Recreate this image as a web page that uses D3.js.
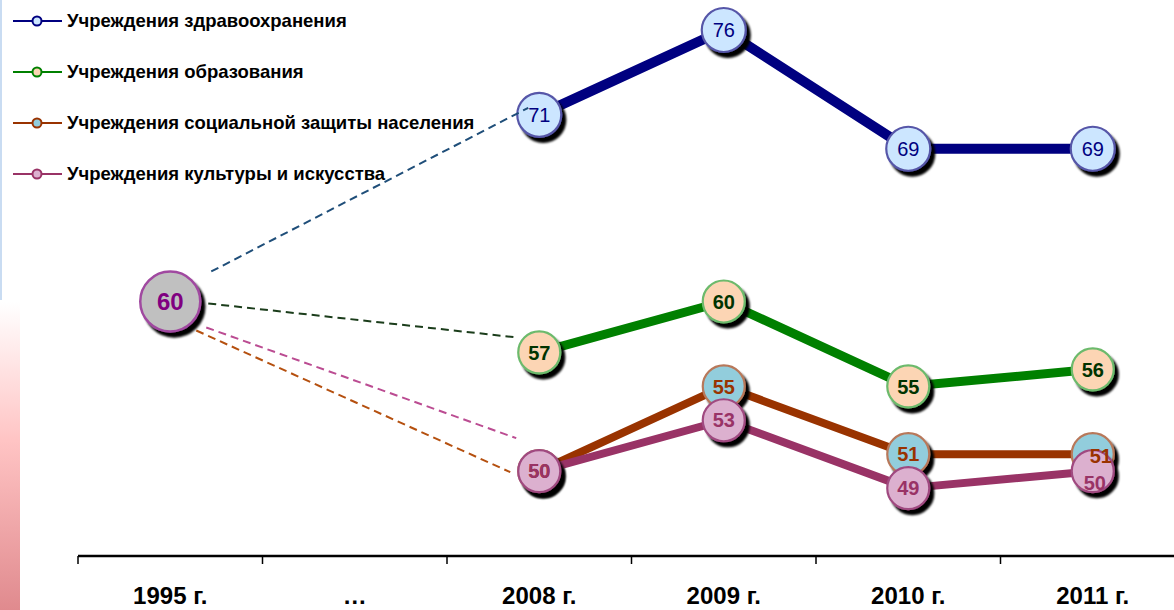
<!DOCTYPE html>
<html><head><meta charset="utf-8">
<script src="https://cdn.jsdelivr.net/npm/d3@7/dist/d3.min.js"></script>
<style>html,body{margin:0;padding:0;background:#fff;overflow:hidden}svg{display:block;font-family:"Liberation Sans",Arial,sans-serif}</style>
</head><body>
<script>
// ---------- data ----------
const categories = ["1995 г.", "…", "2008 г.", "2009 г.", "2010 г.", "2011 г."];
const years = ["2008 г.", "2009 г.", "2010 г.", "2011 г."];
const seriesNames = ["Учреждения здравоохранения", "Учреждения образования", "Учреждения социальной защиты населения", "Учреждения культуры и искусства"];
const health = [71, 76, 69, 69];
const education = [57, 60, 55, 56];
const social = [50, 55, 51, 51];
const culture = [50, 53, 49, 50];
const base1995 = 60;

// ---------- styles ----------
const styles = [
  {line:"#000080", fill:"#cce6ff", stroke:"#5656a8", label:"#000080", weight:"normal", size:20, lw:10, dash:"#1f4e79", r:22},
  {line:"#008000", fill:"#fcd5b4", stroke:"#6cba6c", label:"#003300", weight:"bold", size:20, lw:9, dash:"#1b3d1b", r:21},
  {line:"#993300", fill:"#92cddc", stroke:"#b8785a", label:"#993300", weight:"bold", size:20, lw:8, dash:"#b5500f", r:21},
  {line:"#993366", fill:"#dcb0cf", stroke:"#a04a80", label:"#993366", weight:"bold", size:20, lw:8, dash:"#bb4c92", r:21}
];
const seriesValues = [health, education, social, culture];
// connector offsets (px) from the 1995 point and the 2008 point
const connOffsets = [
  {s:[41,-30], e:[-11,-7]},
  {s:[38,2], e:[-23,-15]},
  {s:[26,29], e:[-29,1]},
  {s:[36,26], e:[-23,-33]}
];
// label nudges (px) by [series, point]
const nudges = {"2-3":[8,2], "3-3":[2,12]};

const W = 1174, H = 610;
const svg = d3.select("body").append("svg").attr("width", W).attr("height", H);
const defs = svg.append("defs");
const f = defs.append("filter").attr("id","sh").attr("x","-50%").attr("y","-50%").attr("width","200%").attr("height","200%");
f.append("feDropShadow").attr("dx",4).attr("dy",5).attr("stdDeviation",1.3).attr("flood-color","#000").attr("flood-opacity",1);
const g1 = defs.append("linearGradient").attr("id","pinkg").attr("x1",0).attr("y1",0).attr("x2",0).attr("y2",1);
g1.append("stop").attr("offset","0%").attr("stop-color","#ffffff");
g1.append("stop").attr("offset","45%").attr("stop-color","#ffc4c4");
g1.append("stop").attr("offset","100%").attr("stop-color","#e08a8e");

// decorations at left edge
svg.append("rect").attr("x",0).attr("y",0).attr("width",2).attr("height",300).attr("fill","#c9dcf2");
svg.append("rect").attr("x",0).attr("y",302).attr("width",20).attr("height",308).attr("fill","url(#pinkg)");

const x = d3.scaleBand().domain(categories).range([78, 78 + 6*184.5]).padding(0);
const bw = x.bandwidth();
const cx = c => x(c) + bw/2;
const y = d3.scaleLinear().domain([45, 76]).range([556, 30]);

// axis
const ax = svg.append("g").attr("transform","translate(0,556)");
ax.append("line").attr("x1",x(categories[0])).attr("x2",W).attr("y1",0).attr("y2",0).attr("stroke","#000").attr("stroke-width",2.5);
ax.selectAll("line.tk").data(categories).join("line").attr("class","tk")
  .attr("x1",d=>x(d)).attr("x2",d=>x(d)).attr("y1",0).attr("y2",8).attr("stroke","#000").attr("stroke-width",1.5);
const axis = d3.axisBottom(x).tickSizeInner(0).tickSizeOuter(0);
const axg = svg.append("g").attr("transform","translate(0,556)").call(axis);
axg.select(".domain").remove();
axg.selectAll("text").attr("y",48).attr("dy",0).attr("fill","#000")
  .style("font-size","24px").style("font-weight","bold").style("font-family","'Liberation Sans',Arial,sans-serif");

// series lines and markers
const line = d3.line().x(d=>cx(d.c)).y(d=>y(d.v));
const labels = [];
seriesValues.forEach((vals, i) => {
  const st = styles[i];
  const pts = years.map((c, j) => ({c, v: vals[j], j}));
  svg.append("path").datum(pts).attr("d", line).attr("fill","none")
    .attr("stroke", st.line).attr("stroke-width", st.lw).attr("stroke-linejoin","round");
  svg.append("g").selectAll("circle").data(pts).join("circle")
    .attr("cx", d=>cx(d.c)).attr("cy", d=>y(d.v)).attr("r", st.r)
    .attr("fill", st.fill).attr("stroke", st.stroke).attr("stroke-width", 2.2).attr("filter","url(#sh)");
  pts.forEach(p => labels.push({i, p}));
});

// 1995 point
const bx = cx(categories[0]), by = y(base1995);
svg.append("circle").attr("cx",bx).attr("cy",by).attr("r",30).attr("fill","#c0c0c0")
  .attr("stroke","#a04aa0").attr("stroke-width",2.5).attr("filter","url(#sh)");

// dashed connectors
seriesValues.forEach((vals, i) => {
  const o = connOffsets[i];
  svg.append("line")
    .attr("x1", bx + o.s[0]).attr("y1", by + o.s[1])
    .attr("x2", cx(years[0]) + o.e[0]).attr("y2", y(vals[0]) + o.e[1])
    .attr("stroke", styles[i].dash).attr("stroke-width", 2).attr("stroke-dasharray","8,5");
});

svg.append("text").attr("x",bx).attr("y",by).attr("dy","0.35em").attr("text-anchor","middle")
  .attr("fill","#800080").style("font-size","24px").style("font-weight","bold").text(base1995);

// value labels
svg.append("g").selectAll("text").data(labels).join("text")
  .attr("x", d => cx(d.p.c) + ((nudges[d.i+"-"+d.p.j]||[0,0])[0]))
  .attr("y", d => y(d.p.v) + ((nudges[d.i+"-"+d.p.j]||[0,0])[1]))
  .attr("dy","0.36em").attr("text-anchor","middle")
  .attr("fill", d => styles[d.i].label)
  .style("font-size", d => styles[d.i].size + "px")
  .style("font-weight", d => styles[d.i].weight)
  .text(d => d.p.v);

// legend
const lg = svg.append("g");
seriesNames.forEach((name, i) => {
  const st = styles[i];
  const ly = 21 + i*51;
  lg.append("line").attr("x1",13).attr("x2",62).attr("y1",ly).attr("y2",ly).attr("stroke",st.line).attr("stroke-width",2);
  lg.append("circle").attr("cx",37).attr("cy",ly).attr("r",4.5).attr("fill",st.fill).attr("stroke",st.line).attr("stroke-width",2);
  lg.append("text").attr("x",67).attr("y",ly).attr("dy","0.35em").attr("fill","#000")
    .style("font-size","18.5px").style("font-weight","bold").text(name);
});
</script>
</body></html>
